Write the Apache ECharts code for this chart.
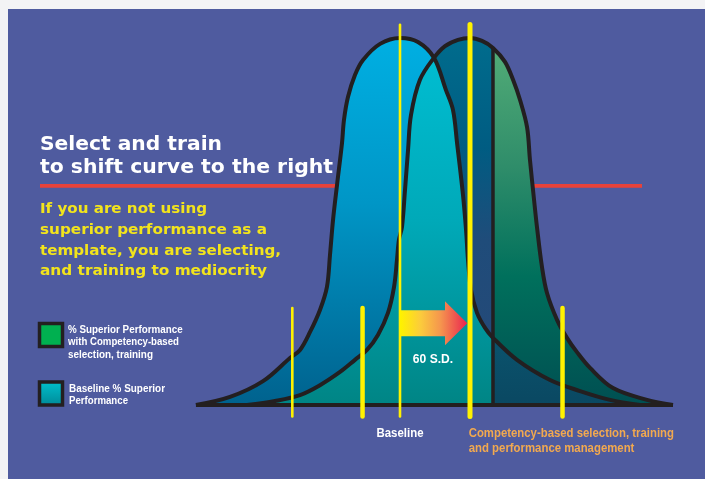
<!DOCTYPE html>
<html><head><meta charset="utf-8">
<script src="https://cdn.jsdelivr.net/npm/echarts@6/dist/echarts.min.js"></script>
<style>html,body{margin:0;padding:0;background:#f3f3f5;}#c{width:705px;height:479px;}</style>
</head><body><div id="c"></div>
<script>
// ---------- DATA ----------
// x: performance, scaled so that the shift between the two means is 60 ("60 S.D."), baseline mean = 0
// y: relative frequency, peak = 100
const baselineCurve = [[-174.9,0],[-145.7,2.2],[-117.4,6.5],[-94.3,12.8],[-85.7,15.0],[-77.1,19.9],[-68.6,25.9],[-62.6,32.2],[-60.0,40.9],[-57.4,50.4],[-54.0,59.9],[-49.7,71.4],[-48.0,77.7],[-44.6,83.9],[-38.6,89.9],[-31.7,94.0],[-17.1,98.4],[0,100],[15.4,98.9],[29.1,94.6],[39.4,85.8],[45.4,80.4],[48.9,71.4],[54.0,57.2],[56.6,47.7],[58.3,39.5],[60.9,31.3],[66.0,25.1],[72.9,21.0],[79.7,18.3],[100.3,12.3],[128.6,6.8],[154.3,3.8],[180.0,1.4],[205.7,0]];
const competencyCurve = [[-131.1,0],[-107.1,1.1],[-85.7,2.7],[-68.6,5.4],[-51.4,9.0],[-38.6,12.3],[-28.3,15.0],[-18.9,19.1],[-10.3,25.1],[-5.1,32.2],[-2.6,39.5],[-0.9,45.0],[1.7,48.5],[4.3,58.6],[6.9,69.5],[9.4,79.0],[17.1,88.6],[29.1,94.6],[38.6,97.8],[49.7,99.5],[60.0,100],[70.3,99.2],[79.7,97.3],[90.0,93.5],[96.9,88.6],[102.9,83.1],[108.9,75.7],[111.4,66.8],[114.9,55.9],[117.4,48.5],[121.7,37.6],[126.0,30.5],[134.6,23.2],[143.1,18.3],[151.7,14.4],[162.9,10.1],[182.6,4.6],[211.7,1.4],[234.0,0]];
const crossingX = 29.1;      // where the two curves cross
const dividerX = 79.7;       // % superior performance cut-off
const markerX = [-92.3, -32.1, 0, 60, 139.3];
const markerTop = [26.4, 26.4, 103.6, 103.7, 26.4];
const markerBottom = -3.1;
const shiftFrom = 0, shiftTo = 60, shiftLevel = 22.3;
const shiftLabel = '60 S.D.';
const titleLines = ['Select and train', 'to shift curve to the right'];
const messageLines = ['If you are not using', 'superior performance as a', 'template, you are selecting,', 'and training to mediocrity'];
const legendCompetency = ['% Superior Performance', 'with Competency-based', 'selection, training'];
const legendBaseline = ['Baseline % Superior', 'Performance'];
const baselineLabel = 'Baseline';
const competencyLabel = ['Competency-based selection, training', 'and performance management'];

// ---------- STYLE / LAYOUT ----------
const markerWidths = [2.6, 4.5, 2.6, 5, 4.5];
const OUT = '#231f20';
const titleWidths = [182, 293];
const messageWidths = [167, 227, 241, 227];
const legendCWidths = [114.7, 111, 85];
const legendBWidths = [96, 59];
const baselineLabelWidth = 47;
const competencyWidths = [205.3, 165.7];
const shiftLabelWidth = 40.3;
function grad(stops){return {type:'linear',x:0,y:38,x2:0,y2:405,global:true,colorStops:stops.map(s=>({offset:s[0],color:s[1]}))};}
const heavyTitle = "bold 19px 'DejaVu Sans',sans-serif";
const heavyMsg = "bold 14.2px 'DejaVu Sans',sans-serif";
const narrowLegend = "bold 11.6px 'Liberation Sans','Arial',sans-serif";
const narrowLabel = "bold 12.5px 'Liberation Sans','Arial',sans-serif";
const mctx = document.createElement('canvas').getContext('2d');
function fit(text, font, w){ mctx.font = font; const m = mctx.measureText(text).width; return m > 0 ? w / m : 1; }

// derived subsets (selection of read points, no interpolation)
const darkPart = competencyCurve.filter(p => p[0] <= dividerX);
const overlapPart = competencyCurve.filter(p => p[0] <= crossingX).concat(baselineCurve.filter(p => p[0] > crossingX && p[0] <= dividerX));
const tailPart = baselineCurve.filter(p => p[0] >= dividerX);
const dividerTop = competencyCurve.find(p => p[0] === dividerX)[1];
const axisLineData = [[baselineCurve[0][0], 0], [competencyCurve[competencyCurve.length-1][0], 0]];

const chart = echarts.init(document.getElementById('c'), null, {renderer:'canvas'});
const SM = 0.35;
function area(name, data, color, z){
  return {type:'line', name, data, z, smooth:SM, symbol:'none', lineStyle:{width:0}, areaStyle:{color, opacity:1}, silent:true, animation:false};
}
function outline(data, z){
  return {type:'line', data, z, smooth:SM, symbol:'none', lineStyle:{color:OUT, width:4, join:'round'}, silent:true, animation:false};
}
function textEl(t, x, y, font, fill, w, align){
  return {type:'text', z:100, x, y, scaleX: fit(t, font, w), silent:true,
    style:{text:t, x:0, y:0, fill, font, align: align || 'left', verticalAlign:'middle'}};
}
const graphics = [
  {type:'rect', shape:{x:8,y:9,width:697,height:470}, style:{fill:'#4f5b9f'}, z:0, silent:true},
  {type:'rect', shape:{x:40,y:184,width:602,height:3.7}, style:{fill:'#e8423a'}, z:1, silent:true}
];
titleLines.forEach((t,i)=>graphics.push(textEl(t, 40, [145,168][i], heavyTitle, '#ffffff', titleWidths[i])));
messageLines.forEach((t,i)=>graphics.push(textEl(t, 40, 209.5+i*20.7, heavyMsg, '#f2e41c', messageWidths[i])));
graphics.push({type:'rect', z:100, shape:{x:39.5,y:323.5,width:23,height:23}, style:{fill:'#00b050', stroke:OUT, lineWidth:3.5}});
graphics.push({type:'rect', z:100, shape:{x:39.5,y:382,width:23,height:23}, style:{fill:{type:'linear',x:0,y:0,x2:0,y2:1,colorStops:[{offset:0,color:'#00c3cf'},{offset:1,color:'#008795'}]}, stroke:OUT, lineWidth:3.5}});
legendCompetency.forEach((t,i)=>graphics.push(textEl(t, 68, 329.3+i*12.6, narrowLegend, '#ffffff', legendCWidths[i])));
legendBaseline.forEach((t,i)=>graphics.push(textEl(t, 69, 388.5+i*12.4, narrowLegend, '#ffffff', legendBWidths[i])));

const option = {
  backgroundColor:'#f3f3f5',
  animation:false,
  grid:{left:50, right:1.667, top:1.3, bottom:0.6, containLabel:false, outerBoundsMode:'none'},
  xAxis:{type:'value', min:-300, max:260, show:false},
  yAxis:{type:'value', min:-20, max:110, show:false},
  graphic: graphics,
  series:[
    area('competency', competencyCurve, grad([[0,'#55ae78'],[0.35,'#2f8d6a'],[0.65,'#00705c'],[1,'#004f52']]), 3),
    area('competencyDark', darkPart, grad([[0,'#006c8d'],[0.3,'#005c82'],[0.55,'#1f4c7a'],[1,'#274877']]), 4),
    area('baseline', baselineCurve, grad([[0,'#00afe2'],[0.45,'#0096c6'],[1,'#00628e']]), 5),
    area('overlap', overlapPart, grad([[0,'#00bfd4'],[0.5,'#00a9b8'],[1,'#008585']]), 6),
    area('tail', tailPart, grad([[0.7,'#0b5a74'],[1,'#0a4862']]), 7),
    outline(competencyCurve, 8),
    outline(baselineCurve, 9),
    {type:'line', data:[[dividerX,0],[dividerX,dividerTop]], z:9, symbol:'none', lineStyle:{color:OUT,width:3.5}, silent:true, animation:false},
    {type:'line', data:axisLineData, z:10, symbol:'none', lineStyle:{color:OUT,width:4}, silent:true, animation:false},
    {type:'custom', z:11, silent:true, animation:false,
      data: markerX.map((x,i)=>[x, markerBottom, markerTop[i]]),
      renderItem:(params, api)=>{
        const a = api.coord([api.value(0), api.value(1)]);
        const b = api.coord([api.value(0), api.value(2)]);
        return {type:'line', shape:{x1:a[0],y1:a[1],x2:b[0],y2:b[1]}, style:{stroke:'#fff200', lineWidth:markerWidths[params.dataIndex], lineCap:'round'}};
      }},
    {type:'custom', z:10, silent:true, animation:false,
      data: [[shiftFrom, shiftTo, shiftLevel]],
      renderItem:(params, api)=>{
        const a = api.coord([api.value(0), api.value(2)]);
        const b = api.coord([api.value(1), api.value(2)]);
        const tip = b[0]-2.7, hs = tip-22.3, y = a[1], x0 = a[0]+0.7;
        return {type:'group', children:[
          {type:'polygon', shape:{points:[[x0,y-13],[hs,y-13],[hs,y-22],[tip,y],[hs,y+22],[hs,y+13],[x0,y+13]]},
           style:{fill:{type:'linear',x:0,y:0,x2:1,y2:0,colorStops:[{offset:0,color:'#fff200'},{offset:0.3,color:'#fbcb3c'},{offset:0.6,color:'#f5954e'},{offset:1,color:'#ea2350'}]}}},
          {type:'text', x:(a[0]+b[0])/2-2, y:y+36, scaleX:fit(shiftLabel, narrowLabel, shiftLabelWidth),
           style:{text:shiftLabel, x:0, y:0, fill:'#ffffff', font:narrowLabel, align:'center', verticalAlign:'middle'}}
        ]};
      }},
    {type:'custom', z:12, silent:true, animation:false,
      data: [[markerX[2], markerX[3]]],
      renderItem:(params, api)=>{
        const a = api.coord([api.value(0), markerBottom]);
        const b = api.coord([api.value(1), markerBottom]);
        const lab = (t, x, y, fill, w, align) => ({type:'text', x, y, scaleX:fit(t, narrowLabel, w),
          style:{text:t, x:0, y:0, fill, font:narrowLabel, align, verticalAlign:'middle'}});
        return {type:'group', children:[
          lab(baselineLabel, a[0], a[1]+17.5, '#ffffff', baselineLabelWidth, 'center'),
          lab(competencyLabel[0], b[0]-1.3, b[1]+17.5, '#f2a94f', competencyWidths[0], 'left'),
          lab(competencyLabel[1], b[0]-1.3, b[1]+32.5, '#f2a94f', competencyWidths[1], 'left')
        ]};
      }}
  ]
};
chart.setOption(option);
</script></body></html>
